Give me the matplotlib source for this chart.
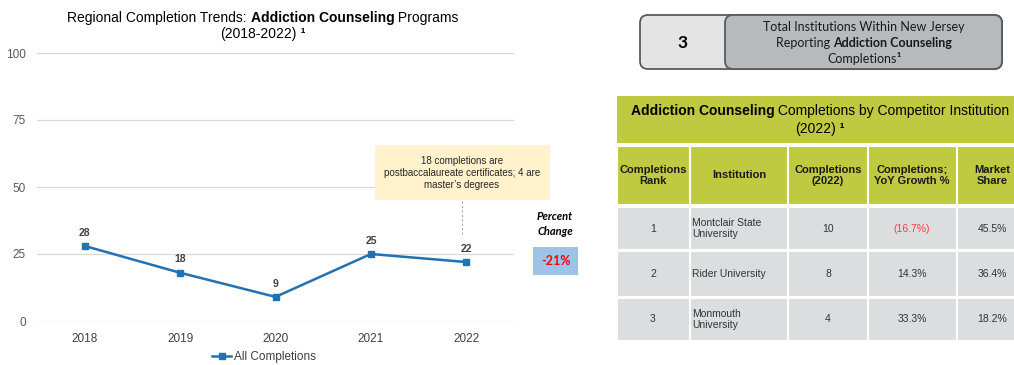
import matplotlib
matplotlib.use('Agg')
import matplotlib.pyplot as plt
from matplotlib.patches import Rectangle, FancyBboxPatch

# ---- data ----
years = ['2018', '2019', '2020', '2021', '2022']
completions = [28, 18, 9, 25, 22]
note_text = "18 completions are\npostbaccalaureate certificates; 4 are\nmaster\u2019s degrees"

kpi_count = 3

col_headers = ['Completions\nRank', 'Institution', 'Completions\n(2022)',
               'Completions;\nYoY Growth %', 'Market\nShare']
ranks = [1, 2, 3]
institutions = ['Montclair State\nUniversity', 'Rider University', 'Monmouth\nUniversity']
inst_completions = [10, 8, 4]
yoy_growth = [-16.7, 14.3, 33.3]
market_share = [45.5, 36.4, 18.2]

plt.rcParams['font.family'] = 'Liberation Sans'

W, H = 1014, 365
fig = plt.figure(figsize=(W / 100, H / 100), dpi=100)

# line chart axes
ax = fig.add_axes([37 / W, (H - 321) / H, 477 / W, 268 / H])
ax.patch.set_visible(False)
blue = '#2271B3'
x = list(range(len(years)))
ax.plot(x, completions, color=blue, lw=1.8, marker='s', ms=5, label='All Completions')
for i, v in zip(x, completions):
    ax.annotate(str(v), (i, v), xytext=(0, 6), textcoords='offset points',
                ha='center', va='bottom', fontsize=7.5, fontweight='bold', color='#404040')
ax.set_xlim(-0.5, len(years) - 0.5)
ax.set_ylim(0, 100)
ax.set_yticks([0, 25, 50, 75, 100])
ax.set_xticks(x)
ax.set_xticklabels(years)
ax.grid(axis='y', color='#D9D9D9', lw=0.9)
ax.set_axisbelow(True)
for s in ax.spines.values():
    s.set_visible(False)
ax.tick_params(axis='y', length=0, labelsize=8.5, colors='#595959', pad=8)
ax.tick_params(axis='x', length=0, labelsize=8.5, colors='#404040', pad=9)
ax.legend(loc='center', bbox_to_anchor=(264 / W, 1 - 357 / H), bbox_transform=fig.transFigure,
          frameon=False, fontsize=8.5, handlelength=1.6, handletextpad=0.2, labelcolor='#404040')

# overlay in pixel coordinates
ov = fig.add_axes([0, 0, 1, 1])
ov.set_xlim(0, W)
ov.set_ylim(H, 0)
ov.axis('off')
ov.patch.set_visible(False)
renderer = fig.canvas.get_renderer()


def rich(cx, cy, parts, size, family='Liberation Sans', color='#000000'):
    texts = []
    for s, w in parts:
        t = ov.text(0, cy, s, fontsize=size, fontweight=w, family=family,
                    color=color, ha='left', va='center')
        texts.append(t)
    widths = [t.get_window_extent(renderer).width for t in texts]
    x0 = cx - sum(widths) / 2
    for t, wd in zip(texts, widths):
        t.set_x(x0)
        x0 += wd


# chart title
rich(263, 18, [('Regional Completion Trends: ', 'normal'), ('Addiction Counseling', 'bold'),
               (' Programs', 'normal')], 10)
rich(263, 34, [('(2018-2022)', 'normal'), (' \u00b9', 'bold')], 10)

# annotation note
ov.add_patch(Rectangle((375, 145), 175, 55, fc='#FFF2CC', ec='none'))
ov.text(462, 173, note_text, ha='center', va='center', fontsize=7, color='#262626',
        linespacing=1.3)
ov.plot([462, 462], [201, 234], color='#A6A6A6', lw=0.8, ls=(0, (2, 2)))

# percent change
pct = round((completions[-1] - completions[0]) / completions[0] * 100)
ov.text(555, 224, 'Percent\nChange', ha='center', va='center', fontsize=8, family='Lato',
        fontweight='bold', style='italic', color='#000000', linespacing=1.4)
ov.add_patch(Rectangle((533, 247), 45, 28, fc='#9DC3E6', ec='none'))
ov.text(555.5, 261, f'{pct}%', ha='center', va='center', fontsize=9, family='Lato',
        fontweight='bold', color='#FF0000')

# KPI box
ov.add_patch(FancyBboxPatch((640, 15), 362, 54, boxstyle='round,pad=0,rounding_size=8',
                            fc='#E4E4E4', ec='#5A5A5A', lw=1.3))
ov.add_patch(FancyBboxPatch((725, 15), 277, 54, boxstyle='round,pad=0,rounding_size=8',
                            fc='#B7BABD', ec='#5A5A5A', lw=1.3))
ov.text(683, 43, str(kpi_count), ha='center', va='center', fontsize=12.5, family='Lato',
        fontweight='bold', color='#000000')
rich(864, 27, [('Total Institutions Within New Jersey', 'normal')], 9, family='Lato', color='#1A1A1A')
rich(864, 43, [('Reporting ', 'normal'), ('Addiction Counseling', 'bold')], 9, family='Lato', color='#1A1A1A')
rich(864, 59, [('Completions', 'normal'), ('\u00b9', 'bold')], 9, family='Lato', color='#1A1A1A')

# competitor table
green = '#BFCA40'
grey = '#DCDDDE'
ov.add_patch(Rectangle((617, 96), 420, 47, fc=green, ec='none'))
rich(820, 111, [('Addiction Counseling', 'bold'), (' Completions by Competitor Institution', 'normal')], 10)
rich(820, 129, [('(2022)', 'normal'), (' \u00b9', 'bold')], 10)

col_edges = [617, 690, 788, 868, 957, 1030]
row_edges = [(146, 205), (207, 250), (251, 297), (298, 341)]
for c in range(len(col_headers)):
    x0, x1 = col_edges[c], col_edges[c + 1]
    for r, (y0, y1) in enumerate(row_edges):
        ov.add_patch(Rectangle((x0, y0), x1 - x0, y1 - y0, fc=green if r == 0 else grey,
                               ec='white', lw=1.5))

col_centers = [653, 739, 828, 912, 992]
hy = (row_edges[0][0] + row_edges[0][1]) / 2
for c, h in enumerate(col_headers):
    ov.text(col_centers[c], hy, h, ha='center', va='center', fontsize=8, fontweight='bold',
            color='#1A1A1A', linespacing=1.2)

for r in range(len(ranks)):
    y0, y1 = row_edges[r + 1]
    cy = (y0 + y1) / 2
    g = yoy_growth[r]
    gtxt = f'({abs(g):.1f}%)' if g < 0 else f'{g:.1f}%'
    gcol = '#FF3B3B' if g < 0 else '#333333'
    ov.text(col_centers[0], cy, str(ranks[r]), ha='center', va='center', fontsize=7.5, color='#333333')
    ov.text(692, cy, institutions[r], ha='left', va='center', fontsize=7.5, color='#333333',
            linespacing=1.2)
    ov.text(col_centers[2], cy, str(inst_completions[r]), ha='center', va='center', fontsize=7.5,
            color='#333333')
    ov.text(col_centers[3], cy, gtxt, ha='center', va='center', fontsize=7.5, color=gcol)
    ov.text(col_centers[4], cy, f'{market_share[r]:.1f}%', ha='center', va='center', fontsize=7.5,
            color='#333333')

fig.savefig('out.png', dpi=100)
